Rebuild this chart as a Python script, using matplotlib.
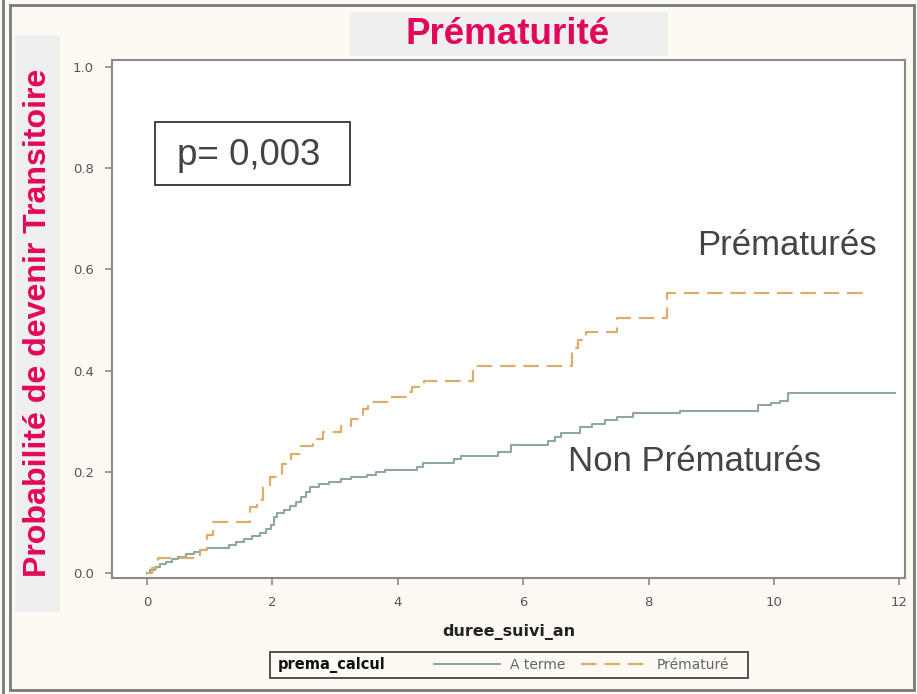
import matplotlib
matplotlib.use("Agg")
import matplotlib.pyplot as plt
from matplotlib.lines import Line2D
from matplotlib.patches import Rectangle

# Kaplan-Meier type curves (years, cumulative probability)
prema_t = [0, 0.08, 0.18, 0.85, 0.96, 1.05, 1.64, 1.75, 1.85, 1.96, 2.15, 2.3, 2.45,
           2.65, 2.8, 3.1, 3.25, 3.45, 3.52, 3.88, 4.15, 4.22, 4.42, 5.2, 6.78,
           6.88, 7.0, 7.5, 8.3, 11.45]
prema_p = [0, 0.01, 0.03, 0.045, 0.075, 0.10, 0.13, 0.145, 0.17, 0.19, 0.215, 0.235,
           0.25, 0.265, 0.278, 0.29, 0.305, 0.325, 0.338, 0.348, 0.358, 0.368, 0.38,
           0.41, 0.445, 0.46, 0.476, 0.504, 0.553, 0.553]

terme_t = [0, 0.05, 0.12, 0.2, 0.3, 0.4, 0.5, 0.62, 0.75, 0.85, 0.95, 1.3, 1.42,
           1.55, 1.68, 1.8, 1.9, 1.97, 2.02, 2.08, 2.18, 2.28, 2.38, 2.46, 2.54, 2.6,
           2.75, 2.9, 3.1, 3.25, 3.5, 3.65, 3.8, 4.3, 4.4, 4.9, 5.0, 5.6, 5.8, 6.4,
           6.5, 6.6, 6.9, 7.1, 7.3, 7.5, 7.75, 8.5, 9.75, 9.95, 10.1, 10.22, 11.93]
terme_p = [0, 0.005, 0.012, 0.018, 0.022, 0.027, 0.032, 0.038, 0.042, 0.046, 0.05,
           0.056, 0.062, 0.067, 0.073, 0.079, 0.086, 0.095, 0.11, 0.118, 0.125, 0.132,
           0.14, 0.15, 0.16, 0.17, 0.175, 0.18, 0.185, 0.19, 0.194, 0.2, 0.204, 0.21,
           0.217, 0.225, 0.232, 0.24, 0.253, 0.26, 0.268, 0.277, 0.289, 0.295, 0.302,
           0.308, 0.316, 0.32, 0.332, 0.336, 0.34, 0.356, 0.356]

x_ticks = [0, 2, 4, 6, 8, 10, 12]
y_ticks = [0.0, 0.2, 0.4, 0.6, 0.8, 1.0]

W, H = 917, 694
bg = "#fcfaf3"
pink = "#e3075b"
c_terme = "#8ea89f"
c_prema = "#dbae6c"

fig = plt.figure(figsize=(W / 100, H / 100), dpi=100, facecolor=bg)

def fx(px):
    return px / W

def fy(py):
    return 1 - py / H

# panel frame and grey label backgrounds
fig.patches.append(Rectangle((fx(10), fy(690)), fx(904), 685 / H, transform=fig.transFigure,
                             fill=False, edgecolor="#7a7a7a", lw=2))
fig.lines.append(Line2D([fx(3), fx(3)], [fy(0), fy(694)], transform=fig.transFigure,
                        color="#7a7a7a", lw=2))
fig.patches.append(Rectangle((fx(15), fy(612)), fx(45), 577 / H, transform=fig.transFigure,
                             facecolor="#efefef", edgecolor="none"))
fig.patches.append(Rectangle((fx(350), fy(56)), fx(318), 44 / H, transform=fig.transFigure,
                             facecolor="#efefef", edgecolor="none"))

ax = fig.add_axes([fx(112), fy(578), fx(905 - 112), 518 / H])
ax.set_facecolor("white")

ax.step(terme_t, terme_p, where="post", color=c_terme, lw=1.5, label="A terme")
ax.step(prema_t, prema_p, where="post", color=c_prema, lw=1.6, dashes=(7, 3.5),
        label="Prématuré")

ax.set_xlim(-0.56, 12.09)
ax.set_ylim(-0.01, 1.014)
ax.set_xticks(x_ticks)
ax.set_xticklabels([str(v) for v in x_ticks])
ax.set_yticks(y_ticks)
ax.set_yticklabels([f"{v:.1f}" for v in y_ticks])
ax.tick_params(colors="#8a8a8a", labelcolor="#555555", labelsize=9.5, length=5, width=1.2,
               pad=8)
for s in ax.spines.values():
    s.set_color("#8a8a8a")
    s.set_linewidth(1.5)

ax.set_xlabel("duree_suivi_an", fontsize=11.5, fontweight="bold", color="#222222",
              labelpad=11)

# annotations
ax.add_patch(Rectangle((0.13, 0.767), 3.11, 0.124, fill=False, edgecolor="#222222", lw=1.2))
ax.text(0.48, 0.826, "p= 0,003", fontsize=26.5, color="#444444", family="Liberation Sans",
        va="center", ha="left")
ax.text(8.77, 0.648, "Prématurés", fontsize=25, color="#444444", family="Liberation Sans",
        va="center", ha="left")
ax.text(6.71, 0.221, "Non Prématurés", fontsize=25, color="#444444",
        family="Liberation Sans", va="center", ha="left")

fig.text(fx(508), fy(34), "Prématurité", fontsize=26.5, fontweight="bold", color=pink,
         family="Liberation Sans", ha="center", va="center")
fig.text(fx(38), fy(323), "Probabilité de devenir Transitoire", fontsize=23.1,
         fontweight="bold", color=pink, family="Liberation Sans", rotation=90,
         ha="center", va="center")

# legend: frame, group name, then the two entries
fig.patches.append(Rectangle((fx(270), fy(678)), fx(478), 26 / H, transform=fig.transFigure,
                             fill=False, edgecolor="#444444", lw=1.3))
fig.text(fx(278), fy(665), "prema_calcul", fontsize=10.5, fontweight="bold",
         color="#111111", ha="left", va="center")
leg = fig.legend(ax.get_lines(), ["A terme", "Prématuré"], ncol=2, loc="center",
                 bbox_to_anchor=(fx(582), fy(665)), frameon=False, fontsize=10,
                 handlelength=4.75, handletextpad=0.7, columnspacing=1.15,
                 borderpad=0.2)
for t in leg.get_texts():
    t.set_color("#666666")

fig.savefig("out.png", dpi=100, facecolor=bg)
